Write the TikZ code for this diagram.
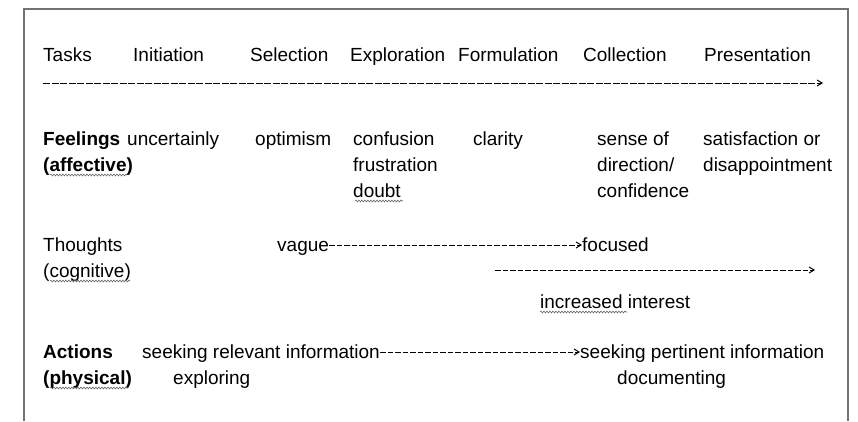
\documentclass[tikz,border=0pt]{standalone}
\usepackage{fontspec}
\setmainfont{Liberation Sans}
\usetikzlibrary{arrows.meta,decorations.pathmorphing}
\begin{document}
\begin{tikzpicture}[x=1pt,y=-1pt,
  txt/.style={anchor=base west,inner sep=0pt,font=\fontsize{19}{25}\selectfont},
  btxt/.style={txt,font=\fontsize{19}{25}\selectfont\bfseries},
  dashline/.style={draw=black,line width=1pt,dash pattern=on 5.5pt off 2pt,-{Straight Barb[length=5pt,width=6pt]}},
  frameline/.style={draw=black!55,line width=1.3pt},
  squig/.style={draw=black!60,line width=0.6pt,decorate,decoration={snake,amplitude=0.9pt,segment length=3pt}}]
\useasboundingbox (0,0) rectangle (858,421);
\draw[frameline] (24,421) -- (24,9) -- (848,9) -- (848,421);

% header
\node[txt] (tasks) at (43,61) {Tasks};
\node[txt] (init) at (133,61) {Initiation};
\node[txt] (sel) at (250,61) {Selection};
\node[txt] (expl) at (350,61) {Exploration};
\node[txt] (form) at (458,61) {Formulation};
\node[txt] (coll) at (583,61) {Collection};
\node[txt] (pres) at (704,61) {Presentation};
\coordinate (hstart) at (43,83);
\coordinate (hend) at (823,83);
\draw[dashline,dash pattern=on 7pt off 1.5pt] (hstart) -- (hend);

% feelings
\node[btxt] (feel) at (43,145) {Feelings};
\node[btxt] (aff) at (43,171) {(affective)};
\node[txt] (unc) at (127,145) {uncertainly};
\node[txt] (opt) at (255,145) {optimism};
\node[txt] (conf) at (353,145) {confusion};
\node[txt] (frus) at (353,171) {frustration};
\node[txt] (doubt) at (353,197) {doubt};
\node[txt] (clar) at (473,145) {clarity};
\node[txt] (sense) at (597,145) {sense of};
\node[txt] (dir) at (597,171) {direction/};
\node[txt] (confi) at (597,197) {confidence};
\node[txt] (sat) at (703,145) {satisfaction or};
\node[txt] (disap) at (703,171) {disappointment};

% thoughts
\node[txt] (thou) at (43,251) {Thoughts};
\node[txt] (cog) at (43,277) {(cognitive)};
\node[txt] (vague) at (277,251) {vague};
\node[txt] (foc) at (582,251) {focused};
\draw[dashline] ([yshift=6pt]vague.base east) -- ([yshift=6pt]foc.base west);
\coordinate (istart) at (495,270);
\coordinate (iend) at (815,270);
\draw[dashline] (istart) -- (iend);
\node[txt] (inc) at (540,308) {increased interest};

% actions
\node[btxt] (act) at (43,358) {Actions};
\node[btxt] (phys) at (43,384) {(physical)};
\node[txt] (seekr) at (142,358) {seeking relevant information};
\node[txt] (explo) at (173,384) {exploring};
\node[txt] (seekp) at (580,358) {seeking pertinent information};
\node[txt] (doc) at (617,384) {documenting};
\draw[dashline] ([yshift=6pt]seekr.base east) -- ([yshift=6pt]seekp.base west);

% spell-check squiggles
\draw[squig] (50,175) -- (127,175);
\draw[squig] (355,201) -- (403,201);
\draw[squig] (50,281) -- (130,281);
\draw[squig] (540,312) -- (627,312);
\draw[squig] (50,388) -- (128,388);
\end{tikzpicture}
\end{document}
